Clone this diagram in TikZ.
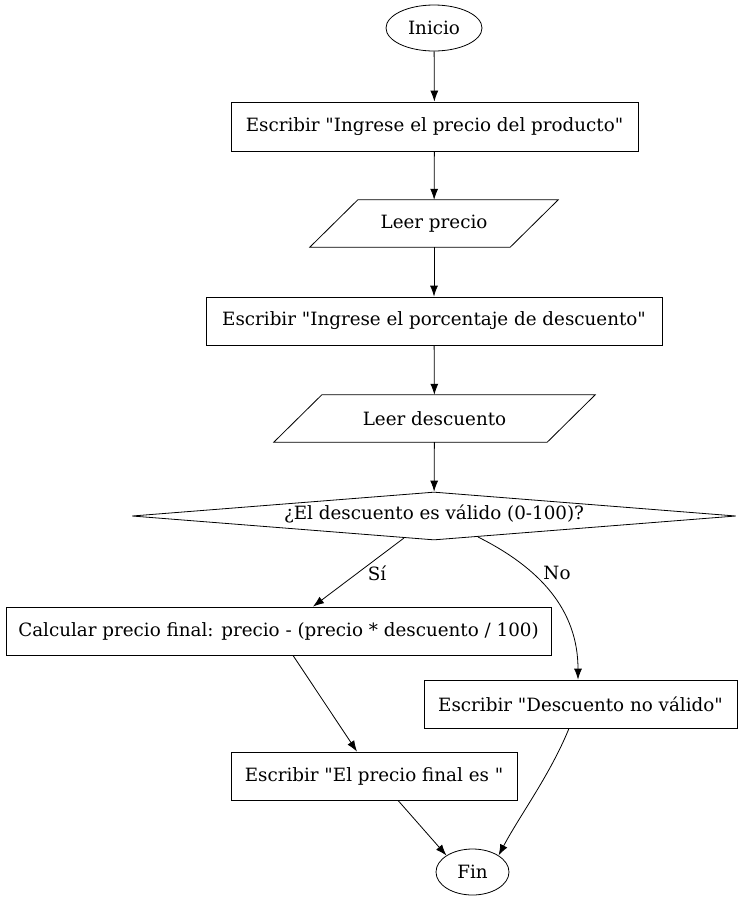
\documentclass[tikz,border=0pt]{standalone}
\usepackage{fontspec}
\setmainfont{DejaVu Serif}[Ligatures=TeXOff]
\usetikzlibrary{shapes.geometric,arrows.meta}
\newcommand{\qq}{\symbol{34}}
\tikzset{
  txt/.style={font=\fontsize{18.3}{21}\selectfont},
  base/.style={draw, line width=0.8pt, txt, inner sep=0pt},
  term/.style={base, ellipse},
  procbox/.style={base, rectangle},
  iobox/.style={txt, rectangle, inner sep=0pt},
  decide/.style={base, diamond},
  conn/.style={-{Latex[length=11pt,width=8pt]}, line width=0.8pt},
  lbl/.style={txt}
}
\begin{document}
\begin{tikzpicture}[x=1pt,y=-1pt]
\useasboundingbox (0,0) rectangle (743,903);
\node[term, minimum width=96pt, minimum height=46pt] (ini) at (434,28) {Inicio};
\node[procbox, minimum width=407pt, minimum height=49pt] (b1) at (434.5,126.5) {Escribir \qq Ingrese el precio del producto\qq};
\node[iobox, minimum width=200pt, minimum height=47pt] (r1) at (434,223.5) {Leer precio};
\draw[line width=0.8pt] ([xshift=24pt]r1.north west) -- ([xshift=24pt]r1.north east) -- ([xshift=-24pt]r1.south east) -- ([xshift=-24pt]r1.south west) -- cycle;
\node[procbox, minimum width=456pt, minimum height=48pt] (b2) at (434,321) {Escribir \qq Ingrese el porcentaje de descuento\qq};
\node[iobox, minimum width=273pt, minimum height=47pt] (r2) at (434.5,418.5) {Leer descuento};
\draw[line width=0.8pt] ([xshift=24pt]r2.north west) -- ([xshift=24pt]r2.north east) -- ([xshift=-24pt]r2.south east) -- ([xshift=-24pt]r2.south west) -- cycle;
\node[decide, minimum width=604pt, minimum height=48pt, aspect=12.5] (d) at (434,516) {};
\node[lbl] (dt) at (434,514) {¿El descuento es válido (0-100)?};
\node[procbox, minimum width=545pt, minimum height=48pt] (c) at (278.5,631) {Calcular precio final: precio - (precio * descuento / 100)};
\node[procbox, minimum width=313pt, minimum height=48pt] (nv) at (580.5,704) {Escribir \qq Descuento no válido\qq};
\node[procbox, minimum width=286pt, minimum height=48pt] (pf) at (374,776) {Escribir \qq El precio final es \qq};
\node[term, minimum width=73pt, minimum height=46pt] (fin) at (472.5,872) {Fin};
\coordinate (dsi) at (404,538);
\coordinate (dno) at (478,537);
\draw[conn] (ini) -- (b1);
\draw[conn] (b1) -- (r1);
\draw[conn] (r1) -- (b2);
\draw[conn] (b2) -- (r2);
\draw[conn] (r2) -- (d);
\draw[conn] (dsi) -- (c.north -| 313,0);
\node[lbl] (lsi) at (377,573) {Sí};
\draw[conn] (dno) .. controls (540,568) and (578,610) .. (nv.north -| 578,0);
\node[lbl] (lno) at (557,573) {No};
\draw[conn] (c.south -| 293,0) -- (pf.north -| 357,0);
\draw[conn] (nv.south -| 569,0) .. controls (550,775) and (520,815) .. (fin.north east);
\draw[conn] (pf.south -| 398,0) -- (fin.north west);
\end{tikzpicture}
\end{document}
